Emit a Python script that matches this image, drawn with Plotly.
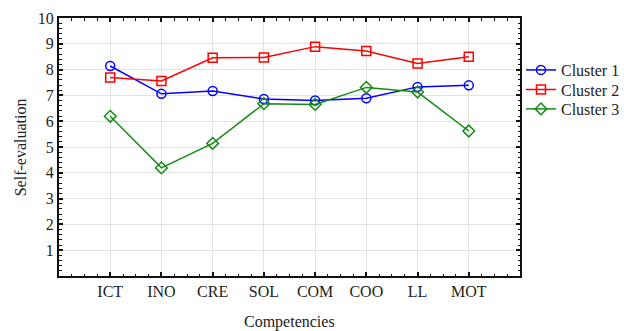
import plotly.graph_objects as go

categories = ["ICT", "INO", "CRE", "SOL", "COM", "COO", "LL", "MOT"]
cluster1 = [8.14, 7.06, 7.17, 6.86, 6.80, 6.89, 7.33, 7.39]
cluster2 = [7.69, 7.56, 8.46, 8.47, 8.89, 8.72, 8.24, 8.50]
cluster3 = [6.19, 4.19, 5.14, 6.68, 6.65, 7.31, 7.13, 5.62]
series_names = ["Cluster 1", "Cluster 2", "Cluster 3"]
y_ticks = [1, 2, 3, 4, 5, 6, 7, 8, 9, 10]

xs = list(range(len(categories)))
styles = [
    dict(color="#0000FF", symbol="circle-open"),
    dict(color="#FF0000", symbol="square-open"),
    dict(color="#158C15", symbol="diamond-open"),
]
legend_ids = ["legend", "legend2", "legend3"]
legend_y = [0.7885, 0.7296, 0.6707]

font_family = "Liberation Serif"
txt_color = "#222222"

fig = go.Figure()
for name, vals, st, lg in zip(series_names, [cluster1, cluster2, cluster3], styles, legend_ids):
    fig.add_trace(go.Scatter(
        x=xs, y=vals, name=name, mode="lines+markers", legend=lg,
        line=dict(color=st["color"], width=1.5),
        marker=dict(symbol=st["symbol"], size=9, color=st["color"],
                    line=dict(width=1.5, color=st["color"])),
    ))

legend_common = dict(x=0.8349, xref="container", yref="container",
                     xanchor="left", yanchor="middle",
                     font=dict(family=font_family, size=16, color=txt_color),
                     bgcolor="rgba(0,0,0,0)", itemwidth=30)

layout_legends = {}
for lg, ly in zip(legend_ids, legend_y):
    layout_legends[lg] = dict(y=ly, **legend_common)

fig.update_layout(
    width=624, height=331,
    margin=dict(l=59, r=104, t=18, b=55),
    paper_bgcolor="white", plot_bgcolor="white",
    font=dict(family=font_family, size=16, color=txt_color),
    showlegend=True,
    **layout_legends,
    xaxis=dict(
        range=[-1, 8], tickvals=xs, ticktext=categories, automargin=False,
        showgrid=True, gridcolor="#E3E3E3", gridwidth=1,
        showline=True, linecolor="#111111", linewidth=2, mirror="ticks",
        ticks="inside", ticklen=4, tickwidth=1.5, tickcolor="#111111",
        minor=dict(dtick=0.25, tick0=0, ticks="inside", ticklen=2.5,
                   tickwidth=1.2, tickcolor="#111111", showgrid=False),
        zeroline=False,
        tickfont=dict(family=font_family, size=16, color=txt_color),
    ),
    yaxis=dict(
        range=[0, 10], tickvals=y_ticks, automargin=False,
        showgrid=True, gridcolor="#E3E3E3", gridwidth=1,
        showline=True, linecolor="#111111", linewidth=2, mirror="ticks",
        ticks="inside", ticklen=4, tickwidth=1.5, tickcolor="#111111",
        minor=dict(dtick=0.2, tick0=0, ticks="inside", ticklen=2.5,
                   tickwidth=1.2, tickcolor="#111111", showgrid=False),
        zeroline=False,
        tickfont=dict(family=font_family, size=16, color=txt_color),
    ),
    annotations=[
        dict(text="Competencies", xref="paper", yref="paper", x=0.5, y=-0.178,
             xanchor="center", yanchor="middle", showarrow=False,
             font=dict(family=font_family, size=16, color=txt_color)),
        dict(text="Self-evaluation", xref="paper", yref="paper", x=-0.084, y=0.5,
             xanchor="center", yanchor="middle", showarrow=False, textangle=-90,
             font=dict(family=font_family, size=16, color=txt_color)),
    ],
)

fig.write_html("out.html", config={"displayModeBar": False},
               post_script="document.body.style.margin='0';")
